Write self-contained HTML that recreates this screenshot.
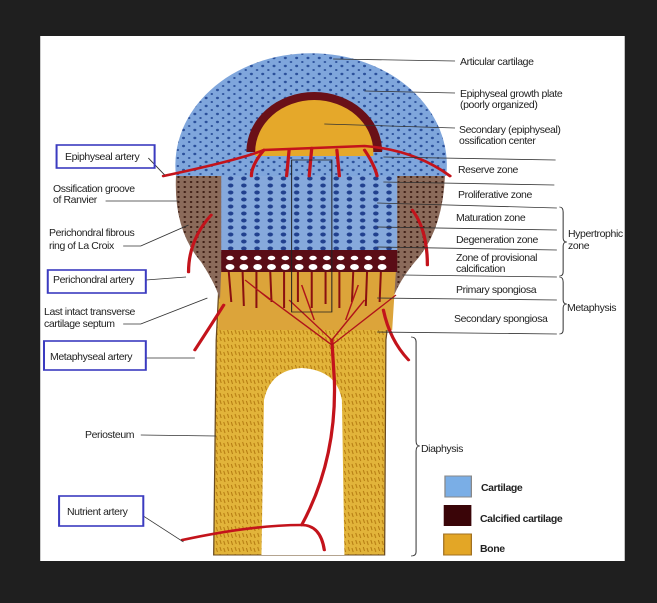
<!DOCTYPE html>
<html><head><meta charset="utf-8"><style>
html,body{margin:0;padding:0;background:#1f1f1f;width:657px;height:603px;overflow:hidden}
svg{display:block}
text{font-family:"Liberation Sans",sans-serif;font-size:10.5px;fill:#222;letter-spacing:-0.4px}
</style></head><body>
<svg width="657" height="603" viewBox="0 0 657 603" xmlns="http://www.w3.org/2000/svg">
<defs>
<pattern id="dots" width="9" height="8" patternUnits="userSpaceOnUse">
<rect width="9" height="8" fill="#7fa6dc"/>
<circle cx="2" cy="2" r="1.2" fill="#2a4f9a"/><circle cx="6.5" cy="6" r="1" fill="#2a4f9a"/>
</pattern>
<pattern id="cols" width="10.5" height="7" patternUnits="userSpaceOnUse">
<rect width="10.5" height="7" fill="#86a9dc"/>
<ellipse cx="5" cy="3.5" rx="2.2" ry="2" fill="#21408e"/>
</pattern>
<pattern id="bone" width="6" height="7" patternUnits="userSpaceOnUse">
<rect width="6" height="7" fill="#e2b43a"/>
<path d="M1 1 l1 4 M4 2 l1 4" stroke="#b47a10" stroke-width="0.8"/>
</pattern>
<pattern id="brown" width="5" height="5" patternUnits="userSpaceOnUse">
<rect width="5" height="5" fill="#8a6a5a"/><circle cx="2" cy="2" r="1" fill="#3a1a10"/>
</pattern>
</defs>
<g transform="scale(1.257 1)">
<rect x="32" y="36" width="465" height="525" fill="#fff"/>
<path d="M174 290 L172 340 L170 555 L306 555 L307 340 L312 290 Z" fill="url(#bone)" stroke="#6a4a20" stroke-width="1"/>
<path d="M140 176 Q138 230 160 262 Q172 285 175 300 L312 300 Q318 280 330 262 Q352 232 354 176 Z" fill="url(#brown)"/>
<path d="M176 270 L315 270 L312 330 L174 330 Z" fill="#dca43a"/>
<g stroke="#8a1010" stroke-width="1.6">
<path d="M182 272 l2 30 M193 272 l1 34 M204 272 l0 36 M215 272 l1 30 M226 272 l0 36 M237 272 l0 30 M248 272 l0 36 M259 272 l0 32 M270 272 l0 36 M281 272 l-1 30 M292 272 l-1 34 M303 272 l-1 30"/>
</g>
<path d="M140 176 A108 112 0 1 1 355 176 Z" fill="url(#dots)"/>
<rect x="176" y="176" width="140" height="76" fill="url(#cols)"/>
<rect x="176" y="250" width="140" height="22" fill="#5a0d16"/>
<g fill="#fff">
<ellipse cx="183" cy="258" rx="3" ry="2.2"/><ellipse cx="194" cy="258" rx="3" ry="2.2"/><ellipse cx="205" cy="258" rx="3" ry="2.2"/><ellipse cx="216" cy="258" rx="3" ry="2.2"/><ellipse cx="227" cy="258" rx="3" ry="2.2"/><ellipse cx="238" cy="258" rx="3" ry="2.2"/><ellipse cx="249" cy="258" rx="3" ry="2.2"/><ellipse cx="260" cy="258" rx="3" ry="2.2"/><ellipse cx="271" cy="258" rx="3" ry="2.2"/><ellipse cx="282" cy="258" rx="3" ry="2.2"/><ellipse cx="293" cy="258" rx="3" ry="2.2"/><ellipse cx="304" cy="258" rx="3" ry="2.2"/>
<ellipse cx="183" cy="267" rx="3.5" ry="3"/><ellipse cx="194" cy="267" rx="3.5" ry="3"/><ellipse cx="205" cy="267" rx="3.5" ry="3"/><ellipse cx="216" cy="267" rx="3.5" ry="3"/><ellipse cx="227" cy="267" rx="3.5" ry="3"/><ellipse cx="238" cy="267" rx="3.5" ry="3"/><ellipse cx="249" cy="267" rx="3.5" ry="3"/><ellipse cx="260" cy="267" rx="3.5" ry="3"/><ellipse cx="271" cy="267" rx="3.5" ry="3"/><ellipse cx="282" cy="267" rx="3.5" ry="3"/><ellipse cx="293" cy="267" rx="3.5" ry="3"/><ellipse cx="304" cy="267" rx="3.5" ry="3"/>
</g>
<path d="M196 152 A54 60 0 0 1 304 152 Z" fill="#6a1018"/>
<path d="M203 152 A47 52 0 0 1 297 152 Z" fill="#e5a82a"/>
<path d="M203 152 L297 152 L297 156 L203 156 Z" fill="#e5a82a"/>
<path d="M208 555 L210 400 Q215 370 240 368 Q268 370 272 400 L274 555 Z" fill="#fff"/>
<g fill="none" stroke="#c3131b" stroke-width="2.6" stroke-linecap="round">
<path d="M130 176 Q190 160 210 150 L290 146 Q330 150 358 176"/>
<path d="M210 150 Q200 165 200 176 M230 150 L228 176 M248 148 L246 176 M268 150 L270 176 M290 150 Q298 165 300 176"/>
<path d="M150 272 Q150 240 168 215"/><path d="M340 265 Q340 230 328 210"/>
<path d="M155 350 Q168 325 178 305"/><path d="M325 360 Q310 340 305 310"/>
<path d="M145 540 Q200 525 240 525 Q255 525 258 550"/>
<path d="M240 525 Q268 460 266 380 L264 340"/>
</g>
<g fill="none" stroke="#b0141a" stroke-width="1.2">
<path d="M264 340 L230 300 M264 340 L290 300 M264 345 L205 290 M264 345 L315 295 M250 320 L240 285 M275 320 L285 285 M215 300 L195 280"/>
</g>
<path d="M232 160 L232 312 L264 312 L264 160 Z" fill="none" stroke="#222" stroke-width="0.8"/>
<g stroke="#333" stroke-width="0.8" fill="none">
<path d="M265 59 L362 61"/><path d="M290 91 L362 93"/><path d="M258 124 L362 128"/>
<path d="M305 157 L442 160"/><path d="M305 182 L441 185"/><path d="M300 203 L443 208"/>
<path d="M300 227 L443 230"/><path d="M300 247 L443 250"/><path d="M320 275 L443 277"/>
<path d="M300 298 L443 300"/><path d="M300 332 L443 334"/>
<path d="M445 207 Q448 207 448 212 L448 238 Q448 242 451 242 Q448 242 448 246 L448 272 Q448 276 445 276"/>
<path d="M445 277 Q448 277 448 282 L448 300 Q448 304 451 304 Q448 304 448 308 L448 330 Q448 334 445 334"/>
<path d="M327 337 Q331 337 331 342 L331 441 Q331 446 334 446 Q331 446 331 451 L331 552 Q331 556 327 556"/>
<path d="M118 158 L131 175"/><path d="M84 201 L142 201"/><path d="M98 246 L112 246 L150 225"/>
<path d="M116 280 L148 277"/><path d="M98 324 L112 324 L165 298"/><path d="M116 358 L155 358"/>
<path d="M112 435 L172 436"/><path d="M114 516 L146 542"/>
</g>
<rect x="354" y="476" width="21" height="21" fill="#7aaee6" stroke="#888"/>
<rect x="353" y="505" width="22" height="21" fill="#3a0508"/>
<rect x="353" y="534" width="22" height="21" fill="#e3a626" stroke="#a07020"/>
<g fill="none" stroke="#3b3bc0" stroke-width="1.6">
<rect x="45" y="145" width="78" height="23"/><rect x="38" y="270" width="78" height="23"/>
<rect x="35" y="341" width="81" height="29"/><rect x="47" y="496" width="67" height="30"/>
</g>
</g>
<text x="460" y="65">Articular cartilage</text>
<text x="460" y="97">Epiphyseal growth plate</text><text x="460" y="108">(poorly organized)</text>
<text x="459" y="133">Secondary (epiphyseal)</text><text x="459" y="144">ossification center</text>
<text x="458" y="173">Reserve zone</text>
<text x="458" y="198">Proliferative zone</text>
<text x="456" y="221">Maturation zone</text>
<text x="456" y="243">Degeneration zone</text>
<text x="456" y="261">Zone of provisional</text><text x="456" y="272">calcification</text>
<text x="456" y="293">Primary spongiosa</text>
<text x="454" y="322">Secondary spongiosa</text>
<text x="568" y="237">Hypertrophic</text><text x="568" y="249">zone</text>
<text x="567" y="311">Metaphysis</text>
<text x="421" y="452">Diaphysis</text>
<text x="481" y="491" style="font-weight:bold">Cartilage</text>
<text x="480" y="522" style="font-weight:bold">Calcified cartilage</text>
<text x="480" y="552" style="font-weight:bold">Bone</text>
<text x="65" y="160">Epiphyseal artery</text>
<text x="53" y="192">Ossification groove</text><text x="53" y="203">of Ranvier</text>
<text x="49" y="236">Perichondral fibrous</text><text x="49" y="249">ring of La Croix</text>
<text x="53" y="283">Perichondral artery</text>
<text x="44" y="315">Last intact transverse</text><text x="44" y="327">cartilage septum</text>
<text x="50" y="360">Metaphyseal artery</text>
<text x="85" y="438">Periosteum</text>
<text x="67" y="515">Nutrient artery</text>
</svg>
</body></html>
